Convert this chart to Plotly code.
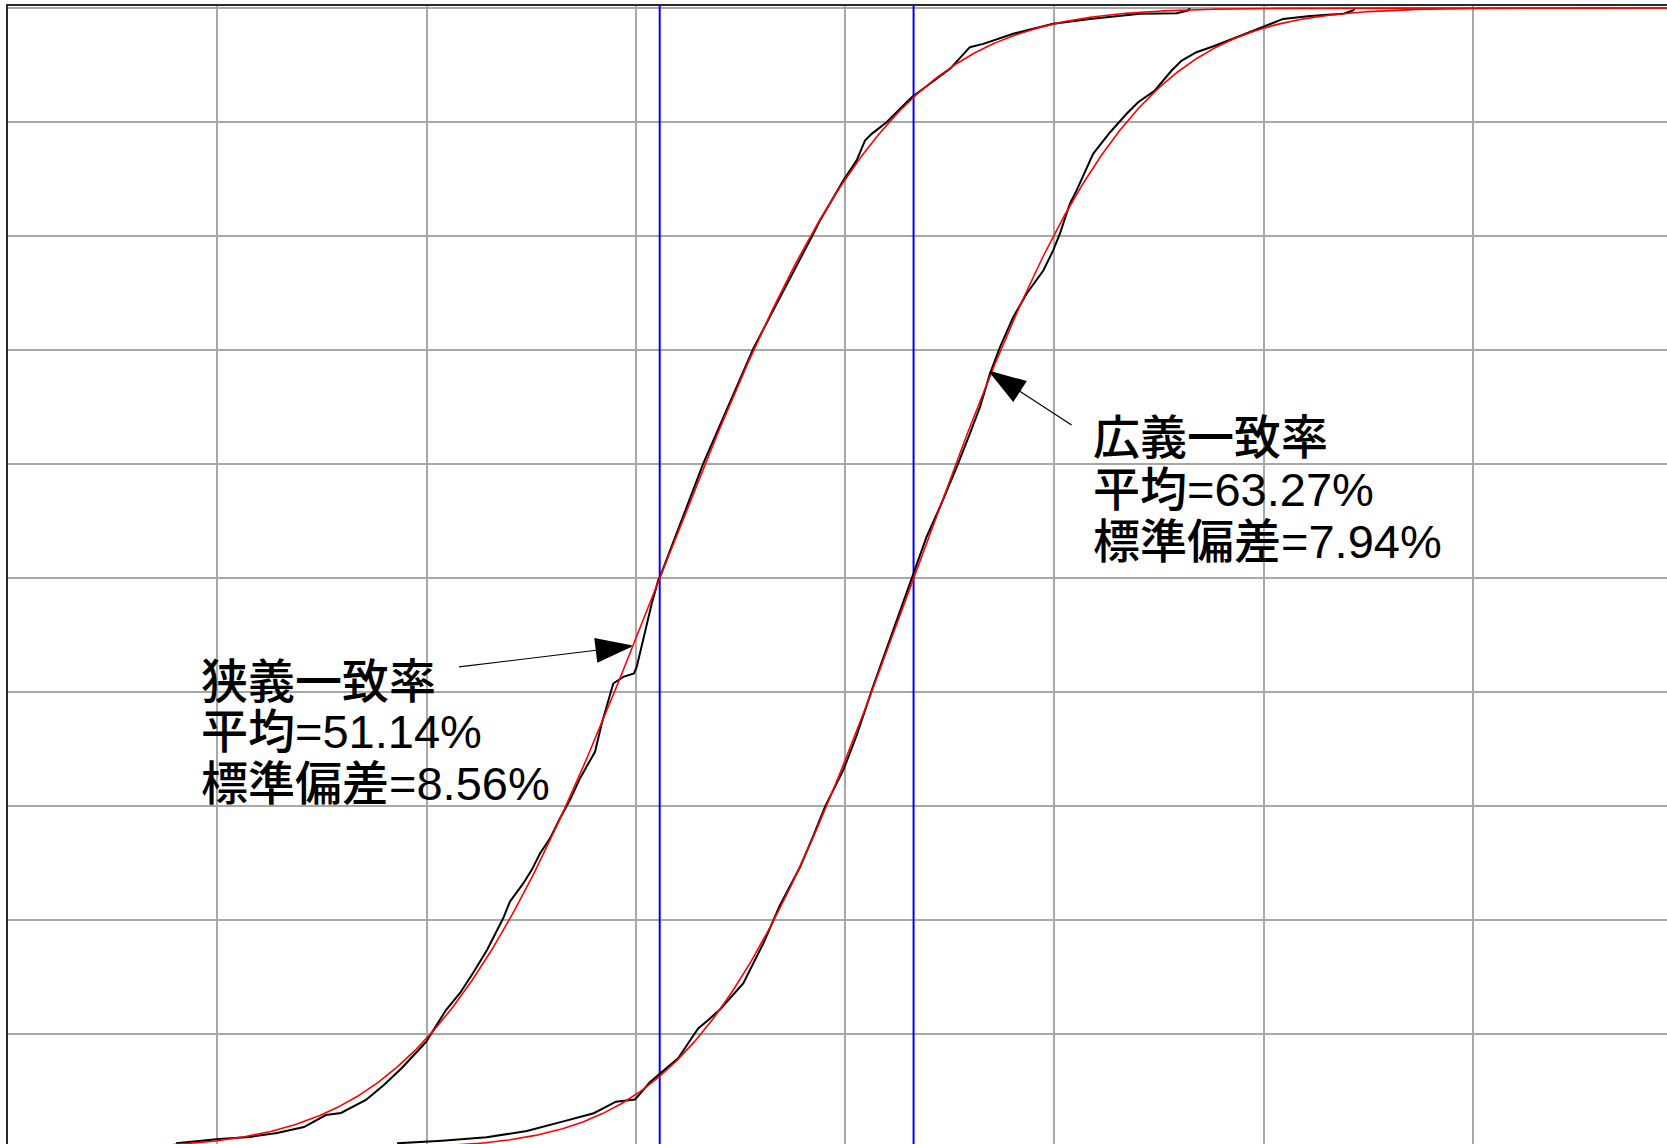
import math
import plotly.graph_objects as go

# Empirical cumulative distributions of the agreement rate (%)
narrow_rate = [28.03, 30.08, 31.56, 32.85, 34.14, 35.19, 35.91, 37.10, 37.96, 38.82,
               39.97, 40.93, 41.60, 42.22, 42.89, 43.32, 43.66, 43.98, 44.62, 45.02,
               45.42, 45.90, 46.37, 46.85, 47.33, 47.73, 48.05, 48.37, 48.60, 48.92,
               49.40, 49.91, 50.04, 50.35, 50.76, 51.07, 51.15, 53.22, 55.61, 58.48,
               58.80, 59.91, 60.55, 60.95, 61.27, 61.98, 63.18, 64.05, 65.01, 65.96,
               66.60, 68.03, 69.94, 71.70, 74.09, 75.84, 76.38, 76.47]
narrow_cum = [0.0045, 0.0083, 0.0101, 0.0136, 0.0188, 0.0293, 0.0311, 0.0425, 0.0557, 0.0706,
              0.0933, 0.1214, 0.1363, 0.1538, 0.1740, 0.1889, 0.2018, 0.2163, 0.2324, 0.2441,
              0.2587, 0.2719, 0.2894, 0.3054, 0.3245, 0.3376, 0.3478, 0.3727, 0.3872, 0.4077,
              0.4135, 0.4165, 0.4223, 0.4457, 0.4778, 0.4983, 0.5011, 0.6005, 0.7013, 0.8021,
              0.8138, 0.8488, 0.8664, 0.8839, 0.8897, 0.8999, 0.9218, 0.9336, 0.9467, 0.9657,
              0.9686, 0.9774, 0.9862, 0.9905, 0.9949, 0.9954, 0.9978, 1.0]

wide_rate = [38.59, 40.74, 42.87, 44.79, 46.49, 47.99, 49.05, 49.96, 50.67, 51.15,
             52.03, 52.58, 52.98, 53.46, 54.02, 55.13, 56.09, 56.88, 57.84, 58.48,
             59.04, 59.91, 60.55, 61.27, 61.98, 62.78, 63.18, 63.89, 64.53, 65.33,
             65.96, 66.44, 66.92, 67.40, 68.03, 68.67, 69.47, 69.94, 70.26, 70.74,
             71.06, 71.85, 72.65, 73.45, 74.00, 74.80, 75.60, 76.08, 76.79, 77.57,
             78.71, 79.34, 79.98, 80.93, 82.21, 83.79, 84.26, 84.36]
wide_cum = [0.0045, 0.0068, 0.0098, 0.0153, 0.0235, 0.0309, 0.0410, 0.0429, 0.0580, 0.0656,
            0.0793, 0.0945, 0.1052, 0.1127, 0.1219, 0.1447, 0.1797, 0.2131, 0.2465, 0.2740,
            0.2997, 0.3317, 0.3621, 0.4017, 0.4381, 0.4807, 0.5011, 0.5362, 0.5625, 0.5975,
            0.6268, 0.6501, 0.6794, 0.7027, 0.7290, 0.7495, 0.7699, 0.7875, 0.8021, 0.8284,
            0.8401, 0.8722, 0.8909, 0.9073, 0.9174, 0.9277, 0.9452, 0.9540, 0.9613, 0.9663,
            0.9744, 0.9788, 0.9832, 0.9905, 0.9930, 0.9949, 0.9978, 1.0]

# Fitted normal distributions
series_names = ["狭義一致率", "広義一致率"]
means = [51.14, 63.27]
stdevs = [8.56, 7.94]

# Points on each fitted curve that the labels point to
arrow_tip_rate = [49.79, 66.92]
arrow_tip_cum = [0.4406, 0.681]
arrow_tail_rate = [41.55, 70.82]
arrow_tail_cum = [0.4222, 0.6343]

X_MIN, X_MAX = 20.0, 99.27
Y_MIN, Y_MAX = 0.0039, 1.0018


def normal_cdf(x, mu, sigma):
    return 0.5 * (1.0 + math.erf((x - mu) / (sigma * math.sqrt(2.0))))


grid_x = [X_MIN + 0.1 * i for i in range(int((X_MAX - X_MIN) / 0.1) + 2)]

fig = go.Figure()

# Mean markers
for mu in means:
    fig.add_trace(go.Scatter(x=[mu, mu], y=[0, 1.01], mode="lines",
                             line=dict(color="#0000ff", width=2),
                             hoverinfo="skip", showlegend=False))

# Empirical curves
for xs, ys, name in [(narrow_rate, narrow_cum, series_names[0]),
                     (wide_rate, wide_cum, series_names[1])]:
    fig.add_trace(go.Scatter(x=xs, y=ys, mode="lines", name=name,
                             line=dict(color="#000000", width=2),
                             showlegend=False))

# Normal fits
for mu, sd, name in zip(means, stdevs, series_names):
    fig.add_trace(go.Scatter(x=grid_x, y=[normal_cdf(v, mu, sd) for v in grid_x],
                             mode="lines", name=name + " 正規分布",
                             line=dict(color="#ff0000", width=1.6),
                             showlegend=False))

# Label arrows: shaft plus a filled head pointing along the shaft
for tx, ty, hx, hy in zip(arrow_tail_rate, arrow_tail_cum, arrow_tip_rate, arrow_tip_cum):
    fig.add_trace(go.Scatter(x=[tx, hx], y=[ty, hy], mode="lines+markers",
                             line=dict(color="#000000", width=1.2),
                             marker=dict(symbol="arrow", size=[0, 37], color="#000000",
                                         opacity=1, angleref="previous",
                                         line=dict(width=1.5, color="#000000")),
                             opacity=1, hoverinfo="skip", showlegend=False))

# Label text, one annotation per line
label_pos = [(29.17, [0.4099, 0.3660, 0.3204]), (71.79, [0.623, 0.578, 0.532])]
font = dict(family="Liberation Sans, Arial, Noto Sans CJK JP", size=47,
            color="black", weight=500)
for (lx, lys), name, mu, sd in zip(label_pos, series_names, means, stdevs):
    lines = [name, f"平均={mu:.2f}%", f"標準偏差={sd:.2f}%"]
    for ly, txt in zip(lys, lines):
        fig.add_annotation(x=lx, y=ly, text=txt, showarrow=False, xanchor="left",
                           yanchor="middle", font=font, borderpad=0)

axis_common = dict(showticklabels=False, ticks="", zeroline=False,
                   showgrid=True, gridcolor="#a8a8a8", gridwidth=2,
                   showline=True, linecolor="#2a2a2a", linewidth=2, mirror=False)

fig.update_layout(
    width=1667, height=1144,
    margin=dict(l=8, r=0, t=6, b=0, pad=0),
    paper_bgcolor="white", plot_bgcolor="white",
    xaxis=dict(range=[X_MIN, X_MAX], dtick=10, tick0=0, side="top", **axis_common),
    yaxis=dict(range=[Y_MIN, Y_MAX], dtick=0.1, tick0=0, **axis_common),
)

fig.write_html("out.html")
